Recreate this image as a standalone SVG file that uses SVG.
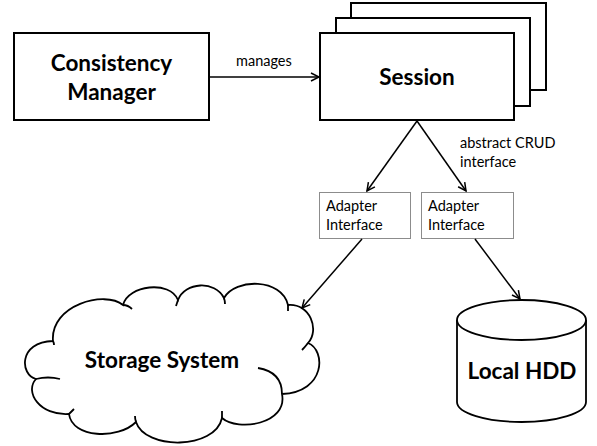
<svg xmlns="http://www.w3.org/2000/svg" width="597" height="446" viewBox="0 0 597 446">
<style>
.box{fill:#fff;stroke:#000;stroke-width:2}
.abox{fill:#fff;stroke:#8c8c8c;stroke-width:1}
.big{font-family:Lato,"Liberation Sans",sans-serif;font-weight:bold;font-size:22.5px;fill:#000;text-anchor:middle}
.small{font-family:Lato,"Liberation Sans",sans-serif;font-size:14.5px;fill:#000}
.con{stroke:#000;stroke-width:1.5;fill:none}
.shape{fill:#fff;stroke:#000;stroke-width:1.8}
.hook{fill:none;stroke:#000;stroke-width:1.8}
</style>
<defs>
<marker id="arr" markerUnits="userSpaceOnUse" markerWidth="12" markerHeight="12" refX="9" refY="5" orient="auto">
<path d="M1,1 L9,5 L1,9" fill="none" stroke="#000" stroke-width="1.5"/>
</marker>
</defs>
<g id="consistency-manager">
<rect class="box" x="14" y="33" width="195" height="87"/>
<text class="big" x="111.5" y="71">Consistency</text>
<text class="big" x="111.5" y="100">Manager</text>
</g>
<g id="session">
<rect class="box" x="351" y="3" width="195" height="87"/>
<rect class="box" x="336" y="18" width="194" height="88"/>
<rect class="box" x="320" y="33" width="194" height="87"/>
<text class="big" x="417" y="85">Session</text>
</g>
<g id="adapter-1">
<rect class="abox" x="319.5" y="192.5" width="91" height="46"/>
<text class="small" x="326" y="211">Adapter</text>
<text class="small" x="326" y="230">Interface</text>
</g>
<g id="adapter-2">
<rect class="abox" x="421.5" y="192.5" width="92" height="46"/>
<text class="small" x="428" y="211">Adapter</text>
<text class="small" x="428" y="230">Interface</text>
</g>
<g id="storage-system">
<path class="shape" d="M53,341 C50,305 105,290 123,305 C128,285 170,280 178,300 C185,282 215,280 224,298 C235,278 282,278 288,305 C310,303 320,330 308,343 C326,350 326,392 282,394 C288,424 238,432 222,418 C215,450 145,450 136,422 C118,440 72,438 69,414 C40,416 24,392 36,379 C20,375 18,342 53,341 Z"/>
<path class="hook" d="M123,305 Q128,305 132,309 M178,300 Q177,303 176,306 M224,298 Q225,301 225,304 M288,305 Q288,308 288,311 M308,343 Q305,347 302,350 M258,368 Q282,372 282,394 M222,418 Q222,414 222,411 M136,422 Q135,419 135,416 M69,414 Q72,411 74,409 M36,379 Q48,376 60,379 M53,341 Q54,343 54,345"/>
<text class="big" x="162" y="368">Storage System</text>
</g>
<g id="local-hdd">
<path class="shape" d="M457,320 L457,402 A64.5,20 0 0 0 586,402 L586,320"/>
<ellipse class="shape" cx="521.5" cy="320" rx="64.5" ry="20"/>
<text class="big" x="522" y="379">Local HDD</text>
</g>
<g id="connectors">
<line class="con" x1="209" y1="77" x2="319" y2="77" marker-end="url(#arr)"/>
<text class="small" x="236" y="66">manages</text>
<line class="con" x1="417" y1="121" x2="367" y2="191" marker-end="url(#arr)"/>
<line class="con" x1="417" y1="121" x2="466" y2="191" marker-end="url(#arr)"/>
<text class="small" x="460" y="148">abstract CRUD</text>
<text class="small" x="460" y="167">interface</text>
<line class="con" x1="362" y1="239" x2="302" y2="308" marker-end="url(#arr)"/>
<line class="con" x1="475" y1="239" x2="520" y2="299" marker-end="url(#arr)"/>
</g>
</svg>
